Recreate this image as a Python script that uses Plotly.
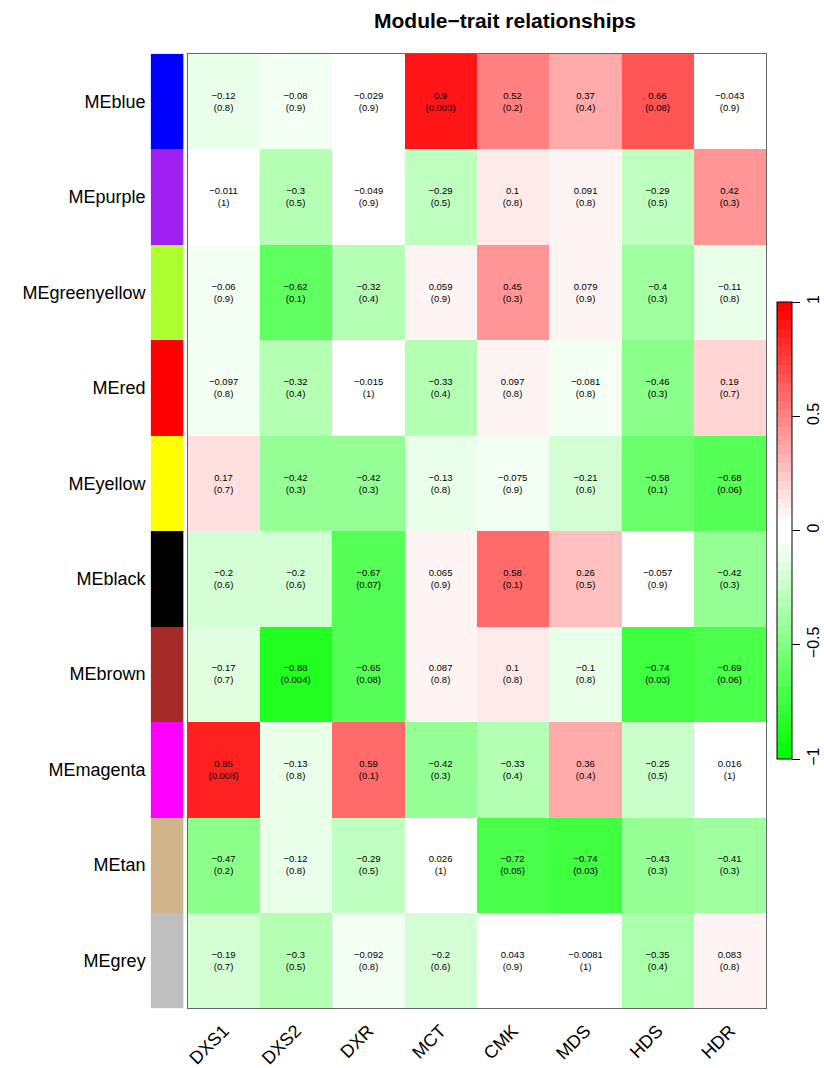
import plotly.graph_objects as go

modules = ["MEblue", "MEpurple", "MEgreenyellow", "MEred", "MEyellow",
           "MEblack", "MEbrown", "MEmagenta", "MEtan", "MEgrey"]
module_colors = ["#0000FF", "#A020F0", "#ADFF2F", "#FF0000", "#FFFF00",
                 "#000000", "#A52A2A", "#FF00FF", "#D2B48C", "#BEBEBE"]
traits = ["DXS1", "DXS2", "DXR", "MCT", "CMK", "MDS", "HDS", "HDR"]

cor_blue = [-0.12, -0.08, -0.029, 0.9, 0.52, 0.37, 0.66, -0.043]
cor_purple = [-0.011, -0.3, -0.049, -0.29, 0.1, 0.091, -0.29, 0.42]
cor_greenyellow = [-0.06, -0.62, -0.32, 0.059, 0.45, 0.079, -0.4, -0.11]
cor_red = [-0.097, -0.32, -0.015, -0.33, 0.097, -0.081, -0.46, 0.19]
cor_yellow = [0.17, -0.42, -0.42, -0.13, -0.075, -0.21, -0.58, -0.68]
cor_black = [-0.2, -0.2, -0.67, 0.065, 0.58, 0.26, -0.057, -0.42]
cor_brown = [-0.17, -0.88, -0.65, 0.087, 0.1, -0.1, -0.74, -0.69]
cor_magenta = [0.85, -0.13, 0.59, -0.42, -0.33, 0.36, -0.25, 0.016]
cor_tan = [-0.47, -0.12, -0.29, 0.026, -0.72, -0.74, -0.43, -0.41]
cor_grey = [-0.19, -0.3, -0.092, -0.2, 0.043, -0.0081, -0.35, 0.083]

p_blue = ["0.8", "0.9", "0.9", "0.003", "0.2", "0.4", "0.08", "0.9"]
p_purple = ["1", "0.5", "0.9", "0.5", "0.8", "0.8", "0.5", "0.3"]
p_greenyellow = ["0.9", "0.1", "0.4", "0.9", "0.3", "0.9", "0.3", "0.8"]
p_red = ["0.8", "0.4", "1", "0.4", "0.8", "0.8", "0.3", "0.7"]
p_yellow = ["0.7", "0.3", "0.3", "0.8", "0.9", "0.6", "0.1", "0.06"]
p_black = ["0.6", "0.6", "0.07", "0.9", "0.1", "0.5", "0.9", "0.3"]
p_brown = ["0.7", "0.004", "0.08", "0.8", "0.8", "0.8", "0.03", "0.06"]
p_magenta = ["0.008", "0.8", "0.1", "0.3", "0.4", "0.4", "0.5", "1"]
p_tan = ["0.2", "0.8", "0.5", "1", "0.05", "0.03", "0.3", "0.3"]
p_grey = ["0.7", "0.5", "0.8", "0.6", "0.9", "1", "0.4", "0.8"]

cor = [cor_blue, cor_purple, cor_greenyellow, cor_red, cor_yellow,
       cor_black, cor_brown, cor_magenta, cor_tan, cor_grey]
pvals = [p_blue, p_purple, p_greenyellow, p_red, p_yellow,
         p_black, p_brown, p_magenta, p_tan, p_grey]


def fmt(v):
    s = f"{v:g}"
    return s.replace("-", "\u2212")


text = [[f"{fmt(c)}<br>({p})" for c, p in zip(rc, rp)] for rc, rp in zip(cor, pvals)]

# stepped green-white-red palette (51 colours, white band in the middle)
half = 25
pal = []
for k in range(half):
    f = k / (half - 1)
    v = int(round(255 * f))
    pal.append(f"rgb({v},255,{v})")
pal.append("rgb(255,255,255)")
for k in range(half):
    f = k / (half - 1)
    v = int(round(255 * (1 - f)))
    pal.append(f"rgb(255,{v},{v})")
n = len(pal)
cs = []
for k, c in enumerate(pal):
    cs.append([k / n, c])
    cs.append([(k + 1) / n, c])

# discrete colorscale for the module strip
m = len(module_colors)
strip_cs = []
for k, c in enumerate(module_colors):
    strip_cs.append([k / m, c])
    strip_cs.append([(k + 1) / m, c])
strip_z = [[i] for i in range(m)]

W, H = 824, 1068
fig = go.Figure()
fig.add_trace(go.Heatmap(
    z=cor, x=traits, y=modules, text=text, texttemplate="%{text}",
    textfont=dict(size=9.5, color="black", family="Liberation Sans"),
    colorscale=cs, zmin=-1, zmax=1, xgap=0, ygap=0,
    colorbar=dict(
        x=777 / W, xanchor="left", xref="paper", xpad=0, ypad=0,
        y=1 - 533.5 / H, yanchor="middle", yref="paper",
        len=457, lenmode="pixels", thickness=15, thicknessmode="pixels",
        outlinecolor="black", outlinewidth=1,
        tickvals=[-1, -0.5, 0, 0.5, 1], ticktext=["\u22121", "\u22120.5", "0", "0.5", "1"],
        ticks="outside", ticklen=8, tickcolor="black", tickangle=-90,
        tickfont=dict(size=16, color="black", family="Liberation Sans"),
    ),
    hoverinfo="skip",
))
fig.add_trace(go.Heatmap(
    z=strip_z, x=["c"], y=modules, xaxis="x2", yaxis="y2",
    colorscale=strip_cs, zmin=-0.5, zmax=m - 0.5, showscale=False, hoverinfo="skip",
))

fig.update_layout(
    width=W, height=H, margin=dict(l=0, r=0, t=0, b=0),
    paper_bgcolor="white", plot_bgcolor="white",
    font=dict(family="Liberation Sans", color="black"),
    title=dict(text="<b>Module\u2212trait relationships</b>", x=505 / W, xanchor="center",
               y=1 - 21 / H, yanchor="middle", font=dict(size=21, color="black", family="Liberation Sans")),
    xaxis=dict(domain=[186 / W, 766 / W], anchor="y", tickangle=-45,
               tickfont=dict(size=18, color="black"), showline=True, mirror=True,
               linecolor="#666", linewidth=1, ticks="", showgrid=False, zeroline=False,
               ticklabelstandoff=4),
    yaxis=dict(domain=[1 - 1014 / H, 1 - 54 / H], anchor="x", autorange="reversed",
               showticklabels=False, showline=True, mirror=True, linecolor="#666",
               linewidth=1, ticks="", showgrid=False, zeroline=False),
    xaxis2=dict(domain=[149 / W, 182 / W], anchor="y2", showticklabels=False,
                showline=False, showgrid=False, zeroline=False, ticks=""),
    yaxis2=dict(domain=[1 - 1014 / H, 1 - 54 / H], anchor="x2", matches="y",
                autorange="reversed", showticklabels=True,
                tickfont=dict(size=18, color="black"), showline=False, ticks="",
                showgrid=False, zeroline=False, ticklabelstandoff=4),
)

fig.write_html("out.html")
